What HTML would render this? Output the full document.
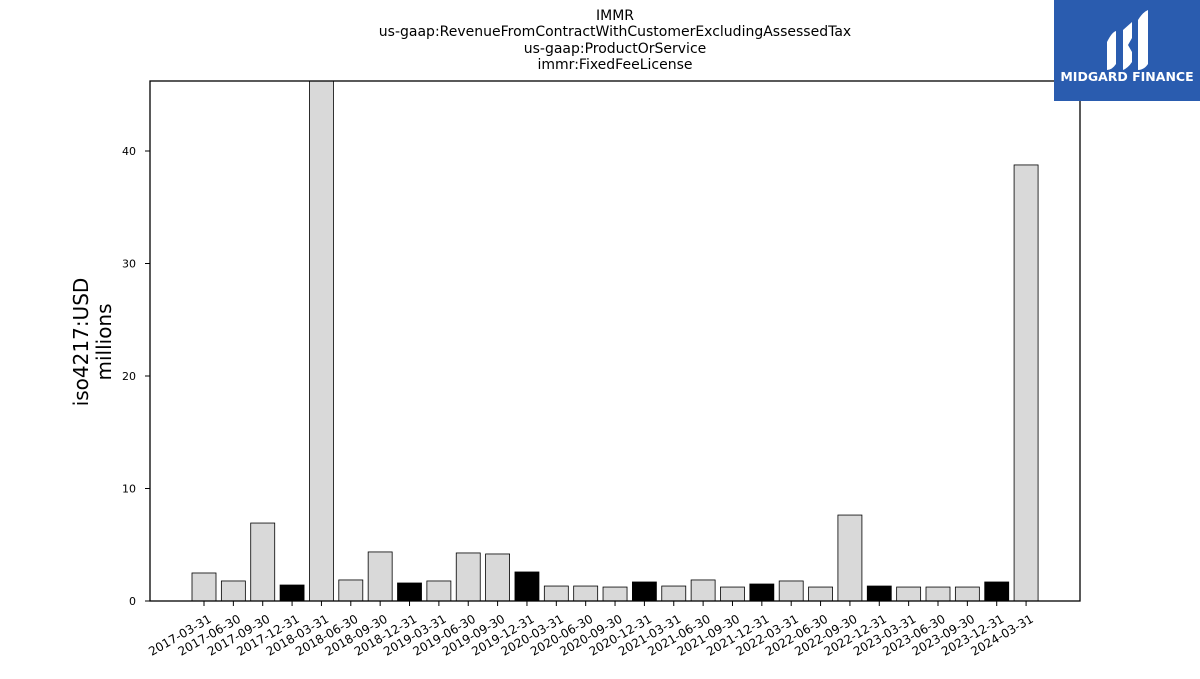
<!DOCTYPE html>
<html><head><meta charset="utf-8"><style>
body{margin:0;background:#fff;font-family:"DejaVu Sans","Liberation Sans",sans-serif;}
</style></head><body>
<svg id="c" width="1200" height="675" xmlns="http://www.w3.org/2000/svg">
<g font-size="14" text-anchor="middle" fill="#000">
<text x="615" y="20">IMMR</text>
<text x="615" y="36">us-gaap:RevenueFromContractWithCustomerExcludingAssessedTax</text>
<text x="615" y="53">us-gaap:ProductOrService</text>
<text x="615" y="69">immr:FixedFeeLicense</text>
</g>
<text transform="translate(88,342) rotate(-90)" text-anchor="middle" font-size="20"><tspan x="0" dy="0">iso4217:USD</tspan><tspan x="0" dy="23">millions</tspan></text>
<defs><clipPath id="pc"><rect x="150" y="81" width="930" height="520"/></clipPath></defs>
<g id="bars" clip-path="url(#pc)"></g>
<g id="axes"></g>
<g>
<rect x="1054" y="0" width="146" height="101" fill="#2a5caf"/>
<path d="M1107 42 Q1112 32 1116 31 L1116 64 Q1112 70 1107 70 Z" fill="#fff"/>
<path d="M1123 30 L1132 22 L1132 38 L1128 45 L1132 52 L1132 62 Q1128 68 1123 70 Z" fill="#fff"/>
<path d="M1138 20 Q1143 12 1148 10 L1148 64 Q1144 70 1138 70 Z" fill="#fff"/>
<text x="1127" y="81" text-anchor="middle" fill="#fff" font-size="12.5" font-weight="bold">MIDGARD FINANCE</text>
</g>
</svg>
<script>
const categories=["2017-03-31","2017-06-30","2017-09-30","2017-12-31","2018-03-31","2018-06-30","2018-09-30","2018-12-31","2019-03-31","2019-06-30","2019-09-30","2019-12-31","2020-03-31","2020-06-30","2020-09-30","2020-12-31","2021-03-31","2021-06-30","2021-09-30","2021-12-31","2022-03-31","2022-06-30","2022-09-30","2022-12-31","2023-03-31","2023-06-30","2023-09-30","2023-12-31","2024-03-31"];
const values=[2.49,1.78,6.93,1.42,50,1.87,4.36,1.6,1.78,4.27,4.18,2.58,1.33,1.33,1.24,1.69,1.33,1.87,1.24,1.51,1.78,1.24,7.64,1.33,1.24,1.24,1.24,1.69,38.76];
const yTicks=[0,10,20,30,40];
const NS="http://www.w3.org/2000/svg";
const y0=601,pxu=11.25;
const yS=v=>y0-v*pxu;
const xS=i=>204+i*29.36;
const bars=document.getElementById('bars'),axes=document.getElementById('axes');
function mk(tag,attrs,parent){const e=document.createElementNS(NS,tag);for(const k in attrs)e.setAttribute(k,attrs[k]);parent.appendChild(e);return e;}
categories.forEach((c,i)=>{
  const black=c.endsWith("12-31");
  const top=yS(values[i]);
  const r=mk('rect',{x:xS(i)-12,y:top,width:24,height:y0-top,fill:black?'#000':'#d9d9d9',stroke:'#000','stroke-width':0.8},bars);
  
  
  mk('line',{x1:xS(i),x2:xS(i),y1:601,y2:606,stroke:'#000'},axes);
  const t=mk('text',{transform:`translate(${xS(i)+4},${614}) rotate(-30)`,'text-anchor':'end','font-size':12,dy:'0.7em'},axes);
  t.textContent=c;
  
  
});
yTicks.forEach(v=>{
  mk('line',{x1:145,x2:150,y1:yS(v),y2:yS(v),stroke:'#000'},axes);
  const t=mk('text',{x:136,y:yS(v)+4,'text-anchor':'end','font-size':11},axes);
  t.textContent=v;
  
  
});
const f=mk('rect',{x:150,y:81,width:930,height:520,fill:'none',stroke:'#000','stroke-width':1.3},axes);


</script>
</body></html>
